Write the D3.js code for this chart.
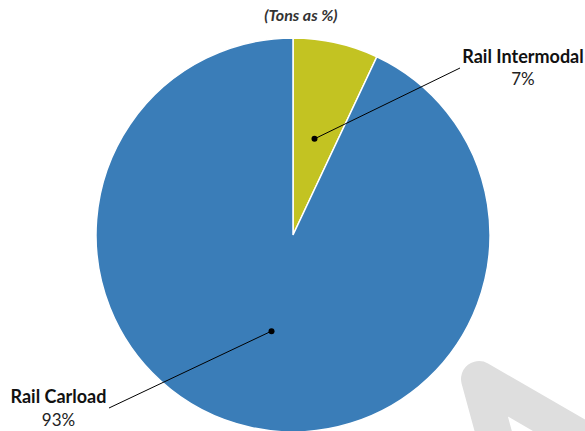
<!DOCTYPE html>
<html>
<head>
<meta charset="utf-8">
<script src="https://cdn.jsdelivr.net/npm/d3@7"></script>
<style>
html,body{margin:0;padding:0;background:#fff;overflow:hidden;}
svg{display:block;}
</style>
</head>
<body>
<svg id="chart" width="585" height="431"></svg>
<script>
const categories = ["Rail Intermodal", "Rail Carload"];
const values = [7, 93];
const percentLabels = ["7%", "93%"];
const colors = ["#C3C322", "#3A7DB8"];
const title = "(Tons as %)";

const W = 585, H = 431;
const cx = 293, cy = 235, R = 197;
const svg = d3.select("#chart");

// background watermark decoration
svg.append("path")
  .attr("d", d3.line()([[497, 445], [479, 379], [600, 449]]))
  .attr("fill", "none")
  .attr("stroke", "#DEDEDE")
  .attr("stroke-width", 36)
  .attr("stroke-linejoin", "round")
  .attr("stroke-linecap", "round");

const pie = d3.pie().sort(null).value(d => d)(values);
const arc = d3.arc().innerRadius(0).outerRadius(R);
const g = svg.append("g").attr("transform", `translate(${cx},${cy})`);

g.selectAll("path.slice").data(pie).join("path")
  .attr("class", "slice")
  .attr("d", arc)
  .attr("fill", (d, i) => colors[i])
  .attr("stroke", "#fff")
  .attr("stroke-width", 1.5);

// title
svg.append("text")
  .attr("x", 301).attr("y", 21)
  .attr("text-anchor", "middle")
  .attr("font-family", "Lato, 'Open Sans', sans-serif")
  .attr("font-weight", "bold").attr("font-style", "italic")
  .attr("font-size", 16).attr("fill", "#333")
  .text(title);

// labels with leader lines
const labelPos = [
  {end: [460, 68], nameX: 523, nameY: 63, pctY: 85},
  {end: [109, 408], nameX: 58.5, nameY: 403, pctY: 426}
];

pie.forEach((d, i) => {
  const c = arc.centroid(d);
  const p0 = [cx + c[0], cy + c[1]];
  const lp = labelPos[i];
  svg.append("path")
    .attr("d", d3.line()([p0, lp.end]))
    .attr("stroke", "#000").attr("stroke-width", 1).attr("fill", "none");
  svg.append("circle").attr("cx", p0[0]).attr("cy", p0[1]).attr("r", 3).attr("fill", "#000");
  svg.append("text")
    .attr("x", lp.nameX).attr("y", lp.nameY)
    .attr("text-anchor", "middle")
    .attr("font-family", "Lato, 'Open Sans', sans-serif")
    .attr("font-weight", "bold").attr("font-size", 18).attr("fill", "#111")
    .text(categories[i]);
  svg.append("text")
    .attr("x", lp.nameX).attr("y", lp.pctY)
    .attr("text-anchor", "middle")
    .attr("font-family", "Lato, 'Open Sans', sans-serif")
    .attr("font-size", 17).attr("fill", "#222")
    .text(percentLabels[i]);
});
</script>
</body>
</html>
